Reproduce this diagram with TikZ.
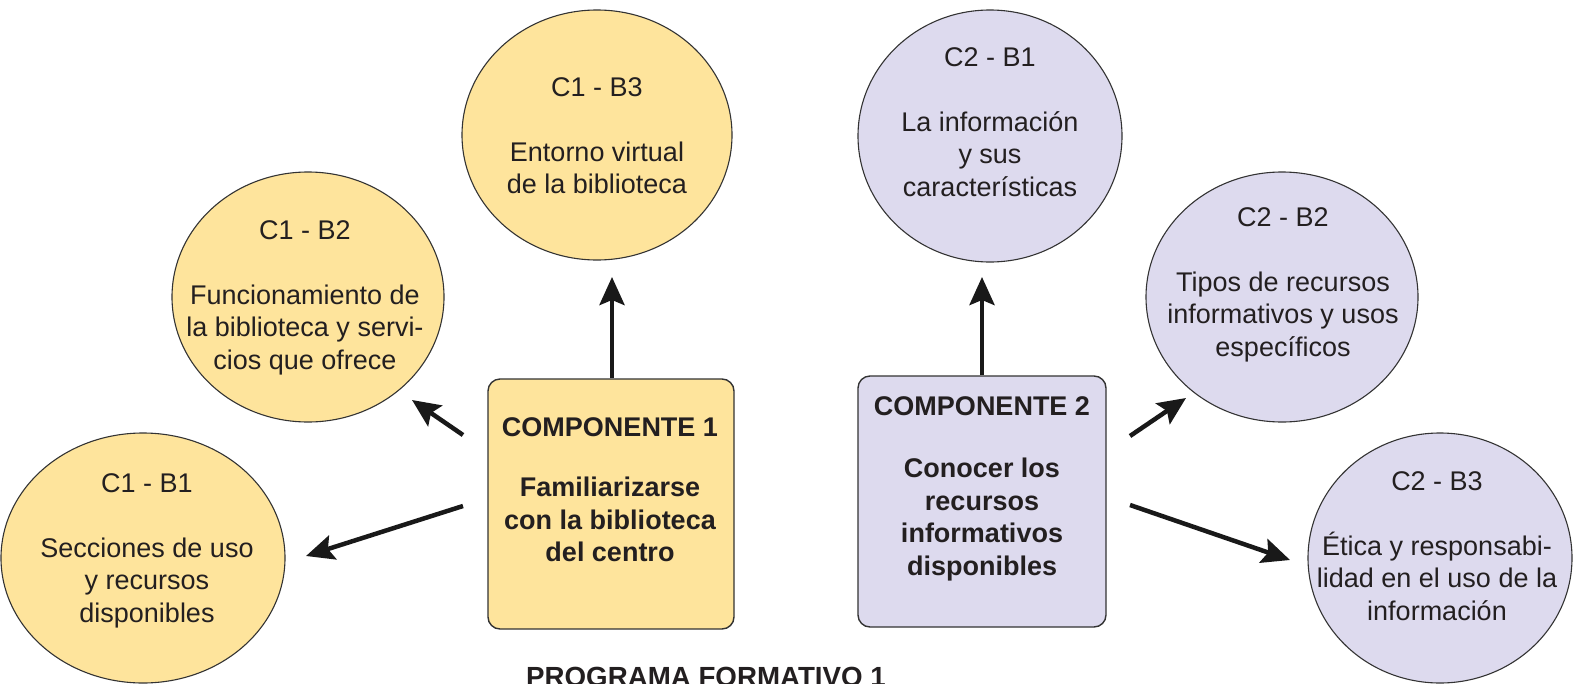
\documentclass[tikz,border=0pt]{standalone}
\usepackage{fontspec}
\setmainfont{Liberation Sans}
\usetikzlibrary{arrows.meta,shapes.geometric,calc}
\definecolor{cyel}{HTML}{FEE49C}
\definecolor{clav}{HTML}{DDDAEE}
\definecolor{cline}{HTML}{333333}
\definecolor{ctext}{HTML}{231F20}
\begin{document}
\begin{tikzpicture}[x=1pt,y=-1pt,
  bub/.style={ellipse, draw=cline, line width=1.1pt, inner sep=0pt},
  yel/.style={fill=cyel}, lav/.style={fill=clav},
  comp/.style={rectangle, draw=cline, line width=1.4pt, rounded corners=12pt, inner sep=0pt},
  txt/.style={align=center, inner sep=0pt, anchor=north, text=ctext, font=\fontsize{27}{32.5}\selectfont},
  btxt/.style={txt, font=\fontsize{27}{32.5}\selectfont\bfseries},
  arr/.style={line width=4.5pt, draw=black!90, -{Stealth[length=28pt,width=25pt,inset=5pt]}}
]
\useasboundingbox (0,0) rectangle (1574,683);
\clip (0,0) rectangle (1574,683);

% bubbles
\node[bub,yel,minimum width=284pt,minimum height=250pt] (c11) at (143,558) {};
\node[bub,yel,minimum width=272pt,minimum height=250pt] (c12) at (308,297) {};
\node[bub,yel,minimum width=270pt,minimum height=250pt] (c13) at (597,135) {};
\node[bub,lav,minimum width=264pt,minimum height=252pt] (c21) at (990,136) {};
\node[bub,lav,minimum width=272pt,minimum height=250pt] (c22) at (1282,297) {};
\node[bub,lav,minimum width=264pt,minimum height=250pt] (c23) at (1440,558) {};

\node[txt] (t11) at (147,473) {C1 - B1\\[32.5pt]Secciones de uso\\y recursos\\disponibles};
\node[txt] (t12) at (305,220) {C1 - B2\\[32.5pt]Funcionamiento de\\la biblioteca y servi-\\cios que ofrece};
\node[txt] (t13) at (597,77) {C1 - B3\\[32.5pt]Entorno virtual\\de la biblioteca};
\node[txt] (t21) at (990,47) {C2 - B1\\[32.5pt]La información\\y sus\\características};
\node[txt] (t22) at (1283,207) {C2 - B2\\[32.5pt]Tipos de recursos\\informativos y usos\\específicos};
\node[txt] (t23) at (1437,471) {C2 - B3\\[32.5pt]Ética y responsabi-\\lidad en el uso de la\\información};

% component boxes
\node[comp,yel,minimum width=246pt,minimum height=250pt] (box1) at (611,504) {};
\node[comp,lav,minimum width=248pt,minimum height=251pt] (box2) at (982,501.5) {};
\node[btxt] (tb1) at (610,417) {COMPONENTE 1\\[28pt]Familiarizarse\\con la biblioteca\\del centro};
\node[btxt] (tb2) at (982,396) {COMPONENTE 2\\[30pt]Conocer los\\recursos\\informativos\\disponibles};

% arrow ends
\coordinate (h13) at (612,277);
\coordinate (h21) at (982,277);
\coordinate (t12s) at (463,435);
\coordinate (h12) at (412,400);
\coordinate (t11s) at (463,506);
\coordinate (h11) at (306,556);
\coordinate (t22s) at (1130,436);
\coordinate (h22) at (1186,398);
\coordinate (t23s) at (1130,505);
\coordinate (h23) at (1290,560);

\draw[arr] (box1.north -| h13) -- (h13);
\draw[arr] (box2.north -| h21) -- (h21);
\draw[arr] (t12s) -- (h12);
\draw[arr] (t11s) -- (h11);
\draw[arr] (t22s) -- (h22);
\draw[arr] (t23s) -- (h23);

% title (cut off at the lower edge, as in the reference)
\node[btxt, font=\fontsize{27.7}{32}\selectfont\bfseries] (title) at (706,667) {PROGRAMA FORMATIVO 1};
\end{tikzpicture}
\end{document}
